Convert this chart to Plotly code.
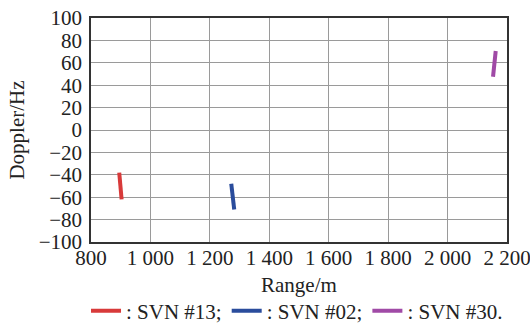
import plotly.graph_objects as go

series_names = [": SVN #13;", ": SVN #02;", ": SVN #30."]
colors = ["#d83a3a", "#2a4c9c", "#a04aa6"]
range_m = [[895, 903], [1272, 1282], [2162, 2153]]
doppler_hz = [[-38, -62], [-48, -71], [70.5, 47.5]]

x_ticks = [800, 1000, 1200, 1400, 1600, 1800, 2000, 2200]
x_ticktext = ["800", "1 000", "1 200", "1 400", "1 600", "1 800", "2 000", "2 200"]
y_ticks = [-100, -80, -60, -40, -20, 0, 20, 40, 60, 80, 100]
y_ticktext = ["\u2212100", "\u221280", "\u221260", "\u221240", "\u221220", "0", "20", "40", "60", "80", "100"]
x_title = "Range/m"
y_title = "Doppler/Hz"

fig = go.Figure()
for name, c, xs, ys in zip(series_names, colors, range_m, doppler_hz):
    fig.add_trace(go.Scatter(x=xs, y=ys, mode="lines", name=name,
                             line=dict(color=c, width=4)))

font = dict(family="Liberation Serif", size=21, color="#222")
fig.update_layout(
    width=530, height=326,
    margin=dict(l=91, r=23, t=18, b=84, autoexpand=False),
    paper_bgcolor="white", plot_bgcolor="white",
    font=font,
    showlegend=True,
    legend=dict(orientation="h", xref="paper", yref="paper",
                x=-0.012, xanchor="left", y=-0.308, yanchor="middle",
                font=dict(family="Liberation Serif", size=21, color="#222"),
                itemwidth=30, tracegroupgap=0, bgcolor="rgba(0,0,0,0)"),
    annotations=[dict(text=x_title, xref="paper", yref="paper", x=0.5, y=-0.192,
                      xanchor="center", yanchor="middle", showarrow=False, font=font)],
)
fig.update_xaxes(range=[800, 2200], tickvals=x_ticks, ticktext=x_ticktext,
                 showgrid=True, gridcolor="#9a9a9a", gridwidth=1,
                 showline=True, linecolor="#333", linewidth=1.5, mirror=True,
                 ticks="", zeroline=False, automargin=False, ticklabeloverflow="allow",
                 ticklabelstandoff=-4, tickfont=font)
fig.update_yaxes(range=[-100, 100], tickvals=y_ticks, ticktext=y_ticktext,
                 showgrid=True, gridcolor="#9a9a9a", gridwidth=1,
                 showline=True, linecolor="#333", linewidth=1.5, mirror=True,
                 ticks="", zeroline=False, automargin=False, ticklabeloverflow="allow",
                 ticklabelstandoff=3,
                 title=dict(text=y_title, standoff=8, font=font), tickfont=font)

fig.write_html("out.html")
